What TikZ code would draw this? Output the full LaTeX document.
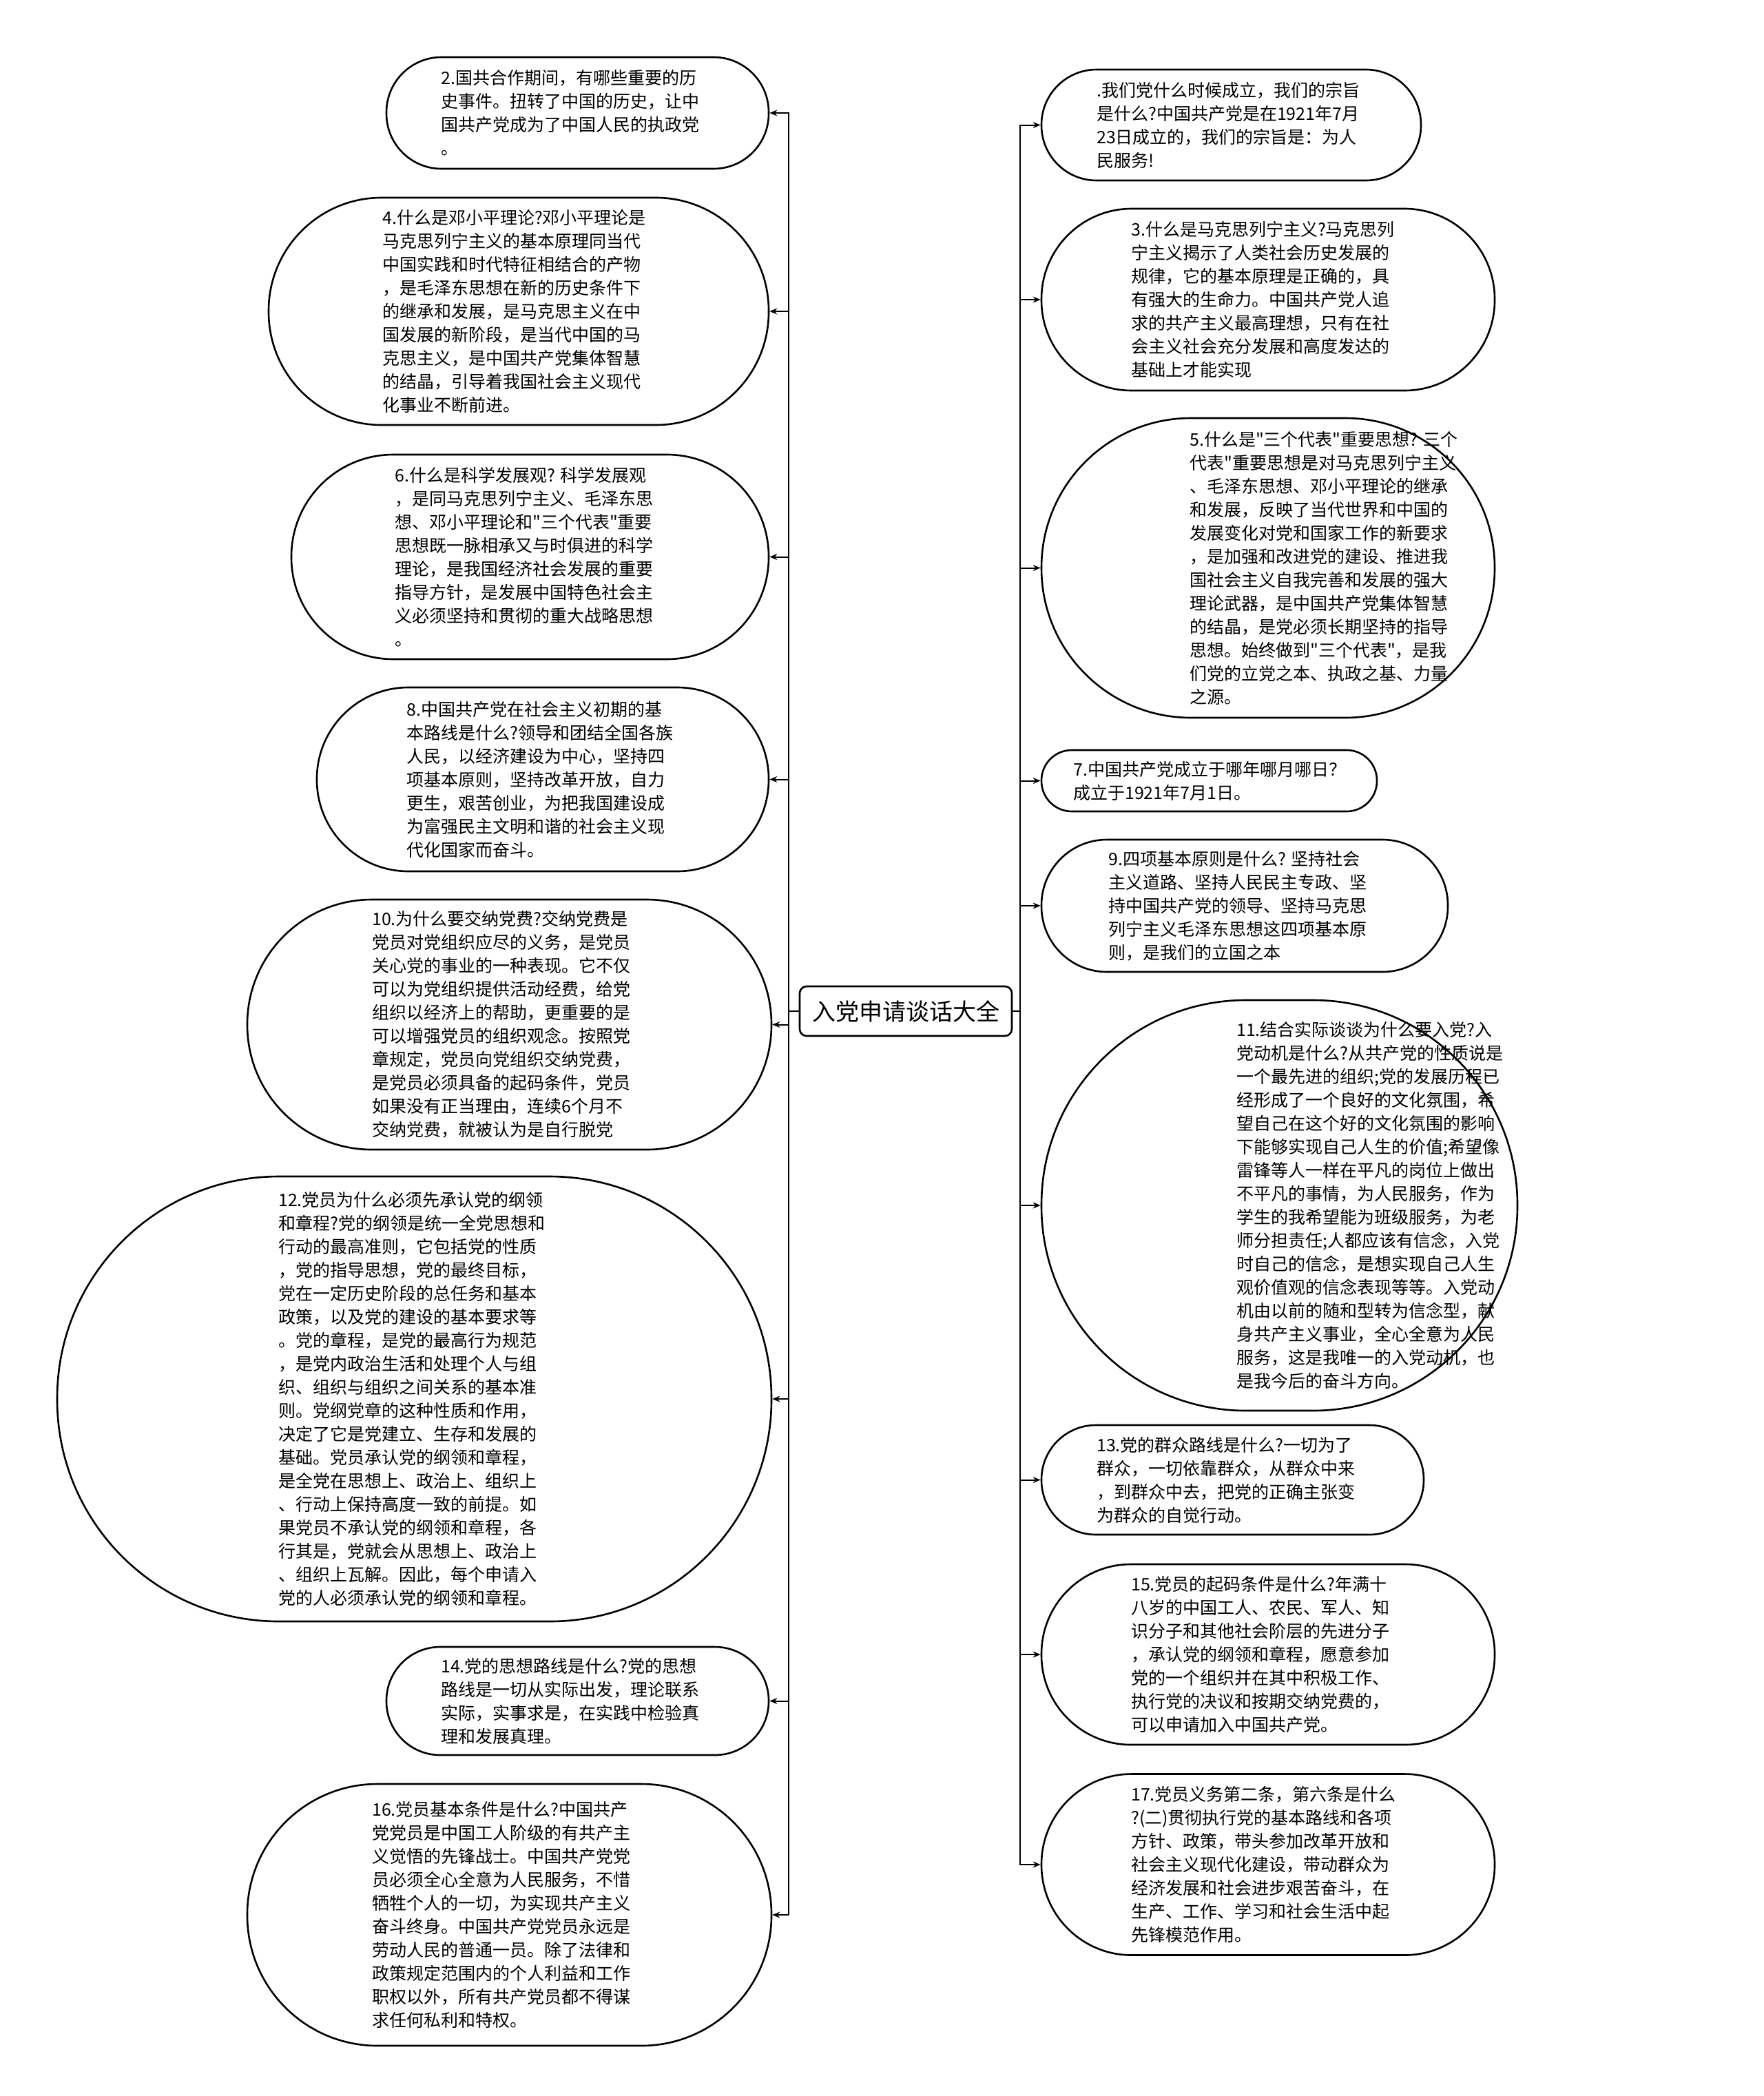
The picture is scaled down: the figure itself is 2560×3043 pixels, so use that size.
\documentclass[tikz,border=0pt]{standalone}
\usepackage{fontspec}
\newfontfamily\qf{Noto Sans CJK SC}
\usetikzlibrary{arrows.meta}
\newcommand{\qb}[6]{\node[qbox, minimum width=#4pt, minimum height=#5pt, rounded corners=#6pt] (#1) at (#2,#3) {};}
\begin{document}
\begin{tikzpicture}[x=1pt,y=-1pt,
  qbox/.style={draw=black, line width=2.6pt, fill=white, inner sep=0pt},
  qtext/.style={anchor=west, align=left, inner sep=0pt, text=black, font=\qf\fontsize{25pt}{34pt}\selectfont},
  rootbox/.style={draw=black, line width=2.6pt, fill=white, rounded corners=10pt, minimum width=308pt, minimum height=72pt, inner sep=0pt, font=\qf\fontsize{34pt}{40pt}\selectfont},
  conn/.style={draw=black, line width=2pt, -{Stealth[length=11pt,width=9pt]}},
  trunk/.style={draw=black, line width=2pt}
]
\fill[white] (0,0) rectangle (2560,3043);
\useasboundingbox (0,0) rectangle (2560,3043);

% root
\node[rootbox] (root) at (1315,1468) {入党申请谈话大全};

% left boxes
\qb{n2}{838.5}{164}{555}{162}{80}
\qb{n4}{753}{452}{726}{330}{164}
\qb{n6}{769.5}{808.5}{693}{297}{148}
\qb{n8}{788}{1131.5}{656}{267}{133}
\qb{n10}{739.5}{1487.5}{761}{363}{181}
\qb{n12}{601.5}{2031}{1037}{646}{322}
\qb{n14}{838.5}{2469.5}{555}{157}{78}
\qb{n16}{739.5}{2780}{761}{380}{189}

% right boxes
\qb{n1}{1787.5}{181.5}{551}{161}{80}
\qb{n3}{1841}{435}{658}{264}{131}
\qb{n5}{1841}{824.5}{658}{435}{217}
\qb{n7}{1755.5}{1133.5}{487}{89}{44}
\qb{n9}{1807}{1315}{590}{192}{95}
\qb{n11}{1857.5}{1750}{691}{596}{297}
\qb{n13}{1789.5}{2148.5}{555}{159}{79}
\qb{n15}{1841}{2402}{658}{262}{130}
\qb{n17}{1841}{2707}{658}{263}{131}

% left texts
\node[qtext] (t2) at (640,164) {2.国共合作期间，有哪些重要的历\\史事件。扭转了中国的历史，让中\\国共产党成为了中国人民的执政党\\。};
\node[qtext] (t4) at (555,452) {4.什么是邓小平理论?邓小平理论是\\马克思列宁主义的基本原理同当代\\中国实践和时代特征相结合的产物\\，是毛泽东思想在新的历史条件下\\的继承和发展，是马克思主义在中\\国发展的新阶段，是当代中国的马\\克思主义，是中国共产党集体智慧\\的结晶，引导着我国社会主义现代\\化事业不断前进。};
\node[qtext] (t6) at (573,808.5) {6.什么是科学发展观? 科学发展观\\，是同马克思列宁主义、毛泽东思\\想、邓小平理论和"三个代表"重要\\思想既一脉相承又与时俱进的科学\\理论，是我国经济社会发展的重要\\指导方针，是发展中国特色社会主\\义必须坚持和贯彻的重大战略思想\\。};
\node[qtext] (t8) at (590,1131.5) {8.中国共产党在社会主义初期的基\\本路线是什么?领导和团结全国各族\\人民，以经济建设为中心，坚持四\\项基本原则，坚持改革开放，自力\\更生，艰苦创业，为把我国建设成\\为富强民主文明和谐的社会主义现\\代化国家而奋斗。};
\node[qtext] (t10) at (540,1487.5) {10.为什么要交纳党费?交纳党费是\\党员对党组织应尽的义务，是党员\\关心党的事业的一种表现。它不仅\\可以为党组织提供活动经费，给党\\组织以经济上的帮助，更重要的是\\可以增强党员的组织观念。按照党\\章规定，党员向党组织交纳党费，\\是党员必须具备的起码条件，党员\\如果没有正当理由，连续6个月不\\交纳党费，就被认为是自行脱党};
\node[qtext] (t12) at (404,2031) {12.党员为什么必须先承认党的纲领\\和章程?党的纲领是统一全党思想和\\行动的最高准则，它包括党的性质\\，党的指导思想，党的最终目标，\\党在一定历史阶段的总任务和基本\\政策，以及党的建设的基本要求等\\。党的章程，是党的最高行为规范\\，是党内政治生活和处理个人与组\\织、组织与组织之间关系的基本准\\则。党纲党章的这种性质和作用，\\决定了它是党建立、生存和发展的\\基础。党员承认党的纲领和章程，\\是全党在思想上、政治上、组织上\\、行动上保持高度一致的前提。如\\果党员不承认党的纲领和章程，各\\行其是，党就会从思想上、政治上\\、组织上瓦解。因此，每个申请入\\党的人必须承认党的纲领和章程。};
\node[qtext] (t14) at (640,2469.5) {14.党的思想路线是什么?党的思想\\路线是一切从实际出发，理论联系\\实际，实事求是，在实践中检验真\\理和发展真理。};
\node[qtext] (t16) at (540,2780) {16.党员基本条件是什么?中国共产\\党党员是中国工人阶级的有共产主\\义觉悟的先锋战士。中国共产党党\\员必须全心全意为人民服务，不惜\\牺牲个人的一切，为实现共产主义\\奋斗终身。中国共产党党员永远是\\劳动人民的普通一员。除了法律和\\政策规定范围内的个人利益和工作\\职权以外，所有共产党员都不得谋\\求任何私利和特权。};

% right texts
\node[qtext] (t1) at (1592,181.5) {.我们党什么时候成立，我们的宗旨\\是什么?中国共产党是在1921年7月\\23日成立的，我们的宗旨是：为人\\民服务!};
\node[qtext] (t3) at (1642,435) {3.什么是马克思列宁主义?马克思列\\宁主义揭示了人类社会历史发展的\\规律，它的基本原理是正确的，具\\有强大的生命力。中国共产党人追\\求的共产主义最高理想，只有在社\\会主义社会充分发展和高度发达的\\基础上才能实现};
\node[qtext] (t5) at (1727,824.5) {5.什么是"三个代表"重要思想? 三个\\代表"重要思想是对马克思列宁主义\\、毛泽东思想、邓小平理论的继承\\和发展，反映了当代世界和中国的\\发展变化对党和国家工作的新要求\\，是加强和改进党的建设、推进我\\国社会主义自我完善和发展的强大\\理论武器，是中国共产党集体智慧\\的结晶，是党必须长期坚持的指导\\思想。始终做到"三个代表"，是我\\们党的立党之本、执政之基、力量\\之源。};
\node[qtext] (t7) at (1558,1133.5) {7.中国共产党成立于哪年哪月哪日？\\成立于1921年7月1日。};
\node[qtext] (t9) at (1609,1315) {9.四项基本原则是什么? 坚持社会\\主义道路、坚持人民民主专政、坚\\持中国共产党的领导、坚持马克思\\列宁主义毛泽东思想这四项基本原\\则，是我们的立国之本};
\node[qtext] (t11) at (1795,1750) {11.结合实际谈谈为什么要入党?入\\党动机是什么?从共产党的性质说是\\一个最先进的组织;党的发展历程已\\经形成了一个良好的文化氛围，希\\望自己在这个好的文化氛围的影响\\下能够实现自己人生的价值;希望像\\雷锋等人一样在平凡的岗位上做出\\不平凡的事情，为人民服务，作为\\学生的我希望能为班级服务，为老\\师分担责任;人都应该有信念，入党\\时自己的信念，是想实现自己人生\\观价值观的信念表现等等。入党动\\机由以前的随和型转为信念型，献\\身共产主义事业，全心全意为人民\\服务，这是我唯一的入党动机，也\\是我今后的奋斗方向。};
\node[qtext] (t13) at (1592,2148.5) {13.党的群众路线是什么?一切为了\\群众，一切依靠群众，从群众中来\\，到群众中去，把党的正确主张变\\为群众的自觉行动。};
\node[qtext] (t15) at (1642,2402) {15.党员的起码条件是什么?年满十\\八岁的中国工人、农民、军人、知\\识分子和其他社会阶层的先进分子\\，承认党的纲领和章程，愿意参加\\党的一个组织并在其中积极工作、\\执行党的决议和按期交纳党费的，\\可以申请加入中国共产党。};
\node[qtext] (t17) at (1642,2707) {17.党员义务第二条，第六条是什么\\?(二)贯彻执行党的基本路线和各项\\方针、政策，带头参加改革开放和\\社会主义现代化建设，带动群众为\\经济发展和社会进步艰苦奋斗，在\\生产、工作、学习和社会生活中起\\先锋模范作用。};

% connectors
\coordinate (lt) at (1145,1468);
\coordinate (rt) at (1481,1468);
\draw[trunk] (root.west) -- (lt);
\draw[trunk] (root.east) -- (rt);
\foreach \n in {n2,n4,n6,n8,n10,n12,n14,n16}
  \draw[conn] (lt) |- (\n.east);
\foreach \n in {n1,n3,n5,n7,n9,n11,n13,n15,n17}
  \draw[conn] (rt) |- (\n.west);
\end{tikzpicture}
\end{document}
